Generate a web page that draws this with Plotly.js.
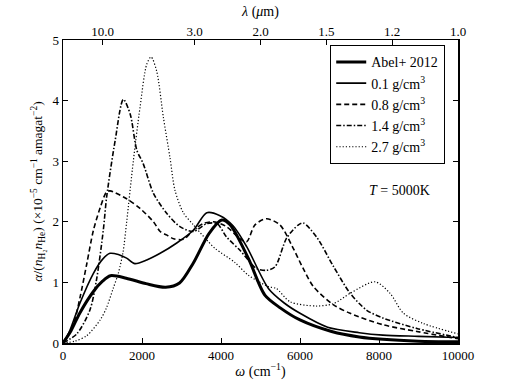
<!DOCTYPE html>
<html>
<head>
<meta charset="utf-8">
<script src="https://cdn.plot.ly/plotly-3.0.1.min.js"></script>
<style>html,body{margin:0;padding:0;background:#fff;}#chart{width:509px;height:382px;}</style>
</head>
<body>
<div id="chart"></div>
<script>
// Abel+ 2012
const abelX = [0, 200, 430, 770, 1000, 1200, 1600, 2100, 2600, 2950, 3300, 3700, 4020, 4230, 4690, 5110, 5500, 6000, 6800, 7500, 8100, 9000, 10000];
const abelY = [0, 0.2, 0.5, 0.85, 1.02, 1.11, 1.07, 0.98, 0.92, 0.99, 1.32, 1.81, 2.03, 1.95, 1.40, 0.79, 0.58, 0.38, 0.19, 0.1, 0.06, 0.03, 0.02];
// 0.1 g/cm3
const d01X = [0, 150, 430, 770, 1000, 1190, 1400, 1610, 1820, 2120, 2460, 2880, 3300, 3640, 3975, 4310, 4650, 5200, 5600, 6000, 6700, 7500, 8100, 9000, 10000];
const d01Y = [0, 0.17, 0.66, 1.15, 1.38, 1.48, 1.46, 1.4, 1.31, 1.37, 1.48, 1.65, 1.86, 2.15, 2.1, 1.93, 1.59, 0.9, 0.66, 0.49, 0.26, 0.17, 0.13, 0.11, 0.09];
// 0.8 g/cm3
const d08X = [0, 260, 430, 600, 770, 950, 1100, 1190, 1610, 1950, 2290, 2460, 2630, 2800, 3050, 3300, 3550, 3810, 4140, 4480, 4650, 4860, 5150, 5490, 5800, 6080, 6340, 6850, 7270, 8110, 8960, 10000];
const d08Y = [0, 0.3, 0.75, 1.3, 1.86, 2.25, 2.49, 2.51, 2.38, 2.22, 2.0, 1.84, 1.78, 1.72, 1.71, 1.86, 1.97, 2.0, 1.92, 1.72, 1.67, 1.95, 2.05, 1.95, 1.6, 1.23, 0.93, 0.63, 0.49, 0.3, 0.19, 0.07];
// 1.4 g/cm3
const d14X = [0, 350, 684, 850, 1020, 1105, 1320, 1527, 1700, 1870, 2030, 2290, 2625, 2960, 3300, 3640, 3900, 4140, 4480, 4900, 5150, 5370, 5660, 5960, 6085, 6420, 6850, 7270, 7690, 8110, 8960, 10000];
const d14Y = [0, 0.15, 0.55, 1.05, 1.86, 2.41, 3.34, 4.02, 3.78, 3.18, 2.96, 2.47, 2.14, 1.92, 1.84, 1.97, 1.97, 1.75, 1.53, 1.23, 1.2, 1.26, 1.73, 1.95, 1.98, 1.75, 1.26, 0.82, 0.54, 0.41, 0.24, 0.09];
// 2.7 g/cm3
const d27X = [0, 300, 600, 940, 1100, 1270, 1400, 1520, 1612, 1780, 1950, 2120, 2230, 2370, 2540, 2710, 2835, 3046, 3300, 3640, 3850, 4350, 4690, 5200, 5400, 5750, 6420, 6850, 7270, 7900, 8280, 8620, 9130, 10000];
const d27Y = [0, 0.03, 0.12, 0.38, 0.58, 0.9, 1.15, 1.5, 2.0, 3.0, 3.89, 4.6, 4.72, 4.49, 3.73, 3.05, 2.52, 2.15, 1.95, 1.70, 1.56, 1.33, 1.12, 0.93, 0.9, 0.68, 0.61, 0.65, 0.82, 1.01, 0.82, 0.49, 0.32, 0.15];

const seriesNames = ['Abel+ 2012', '0.1 g/cm<sup>3</sup>', '0.8 g/cm<sup>3</sup>', '1.4 g/cm<sup>3</sup>', '2.7 g/cm<sup>3</sup>'];

// top axis: wavelength ticks (μm)
const lambdaTicks = [10.0, 3.0, 2.0, 1.5, 1.2, 1.0];
const lambdaLabels = ['10.0', '3.0', '2.0', '1.5', '1.2', '1.0'];

const FONT = "'Liberation Serif', 'DejaVu Serif', serif";

function tr(x, y, name, width, dash) {
  return {
    x: x, y: y, name: name, type: 'scatter', mode: 'lines',
    line: {color: '#000', width: width, dash: dash, shape: 'spline', smoothing: 0.8},
    hoverinfo: 'skip'
  };
}

const data = [
  tr(abelX, abelY, seriesNames[0], 3, 'solid'),
  tr(d01X, d01Y, seriesNames[1], 1.6, 'solid'),
  tr(d08X, d08Y, seriesNames[2], 1.6, '5px,3px'),
  tr(d14X, d14Y, seriesNames[3], 1.6, '5px,2px,1.5px,2px'),
  tr(d27X, d27Y, seriesNames[4], 1.2, '1.2px,2px')
];
// invisible carrier for top axis
data.push({x: [0, 10000], y: [0, 0], xaxis: 'x2', yaxis: 'y', mode: 'lines', line: {width: 0, color: 'rgba(0,0,0,0)'}, showlegend: false, hoverinfo: 'skip'});

const layout = {
  width: 509, height: 382,
  margin: {l: 63, r: 51, t: 40, b: 39},
  paper_bgcolor: '#fff', plot_bgcolor: '#fff',
  font: {family: FONT, size: 13, color: '#000'},
  showlegend: true,
  xaxis: {
    range: [0, 10000], dtick: 2000, tick0: 0, tickformat: 'd',
    showgrid: false, zeroline: false,
    showline: true, linecolor: '#000', linewidth: 1.5, mirror: true,
    ticks: 'inside', ticklen: 5, tickwidth: 1, tickcolor: '#000',
    tickfont: {family: FONT, size: 13},
    title: {text: '<i>ω</i> (cm<sup>−1</sup>)', font: {family: FONT, size: 14}, standoff: 4}
  },
  xaxis2: {
    overlaying: 'x', side: 'top', anchor: 'y',
    range: [0, 10000],
    tickmode: 'array',
    tickvals: lambdaTicks.map(l => 10000 / l),
    ticktext: lambdaLabels,
    showgrid: false, zeroline: false, showline: false,
    ticks: 'inside', ticklen: 5, tickwidth: 1, tickcolor: '#000',
    tickfont: {family: FONT, size: 13},
    title: {text: '<i>λ</i> (<i>μ</i>m)', font: {family: FONT, size: 14}, standoff: 4}
  },
  yaxis: {
    range: [0, 5], dtick: 1, tick0: 0,
    showgrid: false, zeroline: false,
    showline: true, linecolor: '#000', linewidth: 1.5, mirror: 'ticks',
    ticks: 'inside', ticklen: 5, tickwidth: 1, tickcolor: '#000',
    tickfont: {family: FONT, size: 13},
    title: {text: '<i>α</i>/(<i>n</i><sub>H₂</sub><i>n</i><sub>He</sub>) (×10<sup>−5</sup> cm<sup>−1</sup> amagat<sup>−2</sup>)', font: {family: FONT, size: 13.5}, standoff: 6}
  },
  legend: {
    x: 0.676, y: 0.983, xanchor: 'left', yanchor: 'top',
    bordercolor: '#000', borderwidth: 1.2, bgcolor: '#fff',
    font: {family: FONT, size: 14},
    tracegroupgap: 0, itemwidth: 30
  },
  annotations: [{
    x: 8530, y: 2.52, xref: 'x', yref: 'y', showarrow: false,
    text: '<i>T</i> = 5000K', font: {family: FONT, size: 14}
  }]
};

Plotly.newPlot('chart', data, layout, {staticPlot: true, displayModeBar: false});
</script>
</body>
</html>
